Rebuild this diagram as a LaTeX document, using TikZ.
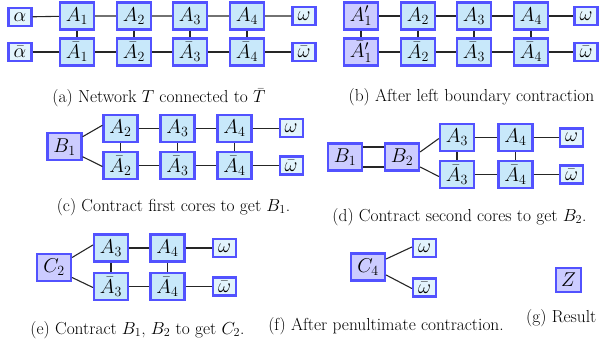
\RequirePackage{fix-cm}
\documentclass[tikz,border=0pt]{standalone}
\definecolor{bordc}{RGB}{82,82,255}
\definecolor{corefill}{RGB}{200,232,250}
\definecolor{endfill}{RGB}{226,244,252}
\definecolor{mergefill}{RGB}{204,204,255}
\tikzset{
  basebox/.style={draw=bordc, line width=2.2pt, inner sep=0pt, font=\fontsize{20}{23}\selectfont},
  tbig/.style={basebox, fill=corefill, minimum width=34pt, minimum height=27pt},
  tmerge/.style={basebox, fill=mergefill, minimum width=34pt, minimum height=27pt},
  tend/.style={basebox, fill=endfill, minimum width=23pt, minimum height=18pt},
  tres/.style={basebox, fill=mergefill, minimum width=25pt, minimum height=24pt},
  link/.style={draw=black!85, line width=1.1pt},
  capt/.style={inner sep=0pt, font=\fontsize{17.4}{21}\selectfont}
}
\begin{document}
\begin{tikzpicture}[x=1pt,y=-1pt]
\useasboundingbox (0,0) rectangle (602,347);
% ---------- (a)
\node[tend] (a0) at (20,17) {$\alpha$};
\node[tbig] (a1) at (77,16) {$A_1$};
\node[tbig] (a2) at (134,16) {$A_2$};
\node[tbig] (a3) at (190,16) {$A_3$};
\node[tbig] (a4) at (247,16) {$A_4$};
\node[tend] (a5) at (304,16) {$\omega$};
\node[tend] (b0) at (20,52) {$\bar\alpha$};
\node[tbig] (b1) at (77,52) {$\bar{A}_1$};
\node[tbig] (b2) at (134,52) {$\bar{A}_2$};
\node[tbig] (b3) at (190,52) {$\bar{A}_3$};
\node[tbig] (b4) at (247,52) {$\bar{A}_4$};
\node[tend] (b5) at (304,52) {$\bar\omega$};
\draw[link] (a0)--(a1) (a1)--(a2) (a2)--(a3) (a3)--(a4) (a4)--(a5);
\draw[link] (b0)--(b1) (b1)--(b2) (b2)--(b3) (b3)--(b4) (b4)--(b5);
\draw[link] (a1)--(b1) (a2)--(b2) (a3)--(b3) (a4)--(b4);
\node[capt] (capa) at (159,98) {(a) Network $T$ connected to $\bar{T}$};
% ---------- (b)
\node[tmerge] (c1) at (361,16) {$A'_1$};
\node[tbig] (c2) at (418,16) {$A_2$};
\node[tbig] (c3) at (474,16) {$A_3$};
\node[tbig] (c4) at (531,16) {$A_4$};
\node[tend] (c5) at (586,16) {$\omega$};
\node[tmerge] (d1) at (361,52) {$\bar{A}'_1$};
\node[tbig] (d2) at (418,52) {$\bar{A}_2$};
\node[tbig] (d3) at (474,52) {$\bar{A}_3$};
\node[tbig] (d4) at (531,52) {$\bar{A}_4$};
\node[tend] (d5) at (586,52) {$\bar\omega$};
\draw[link] (c1)--(c2) (c2)--(c3) (c3)--(c4) (c4)--(c5);
\draw[link] (d1)--(d2) (d2)--(d3) (d3)--(d4) (d4)--(d5);
\draw[link] (c1)--(d1) (c2)--(d2) (c3)--(d3) (c4)--(d4);
\node[capt] (capb) at (471.5,97) {(b) After left boundary contraction};
% ---------- (c)
\node[tmerge] (e0) at (64.5,146.7) {$B_1$};
\node[tbig] (e2) at (120.5,128.3) {$A_2$};
\node[tbig] (e3) at (177.5,128.3) {$A_3$};
\node[tbig] (e4) at (234.5,128.3) {$A_4$};
\node[tend] (e5) at (291.2,128.3) {$\omega$};
\node[tbig] (f2) at (120.5,165.5) {$\bar{A}_2$};
\node[tbig] (f3) at (177.5,165.5) {$\bar{A}_3$};
\node[tbig] (f4) at (234.5,165.5) {$\bar{A}_4$};
\node[tend] (f5) at (291.2,165.5) {$\bar\omega$};
\draw[link] ([yshift=10pt]e0.east)--([yshift=3pt]e2.west);
\draw[link] ([yshift=-10pt]e0.east)--([yshift=-1pt]f2.west);
\draw[link] (e2)--(e3) (e3)--(e4) (e4)--(e5);
\draw[link] (f2)--(f3) (f3)--(f4) (f4)--(f5);
\draw[link] (e2)--(f2) (e3)--(f3) (e4)--(f4);
\node[capt] (capc) at (173.5,207) {(c) Contract first cores to get $B_1$.};
% ---------- (d)
\node[tmerge] (g0) at (345,157) {$B_1$};
\node[tmerge] (g1) at (402,157) {$B_2$};
\node[tbig] (g3) at (457,137.5) {$A_3$};
\node[tbig] (g4) at (515.5,137.5) {$A_4$};
\node[tend] (g5) at (571.5,137.5) {$\omega$};
\node[tbig] (h3) at (457,174.5) {$\bar{A}_3$};
\node[tbig] (h4) at (515.5,174.5) {$\bar{A}_4$};
\node[tend] (h5) at (571.5,174.5) {$\bar\omega$};
\draw[link] ([yshift=10pt]g0.east)--([yshift=10pt]g1.west);
\draw[link] ([yshift=-10pt]g0.east)--([yshift=-10pt]g1.west);
\draw[link] ([yshift=5pt]g1.east)--([yshift=-1pt]g3.west);
\draw[link] ([yshift=-10pt]g1.east)--([yshift=-2pt]h3.west);
\draw[link] (g3)--(g4) (g4)--(g5);
\draw[link] (h3)--(h4) (h4)--(h5);
\draw[link] (g3)--(h3) (g4)--(h4);
\node[capt] (capd) at (459.5,217) {(d) Contract second cores to get $B_2$.};
% ---------- (e)
\node[tmerge] (k0) at (54,267.5) {$C_2$};
\node[tbig] (k3) at (111,248) {$A_3$};
\node[tbig] (k4) at (167.5,248) {$A_4$};
\node[tend] (k5) at (224.5,248) {$\omega$};
\node[tbig] (m3) at (111,286.5) {$\bar{A}_3$};
\node[tbig] (m4) at (167.5,286.5) {$\bar{A}_4$};
\node[tend] (m5) at (224.5,286.5) {$\bar\omega$};
\draw[link] ([yshift=10pt]k0.east)--([yshift=3pt]k3.west);
\draw[link] ([yshift=-10pt]k0.east)--([yshift=-1pt]m3.west);
\draw[link] (k3)--(k4) (k4)--(k5);
\draw[link] (m3)--(m4) (m4)--(m5);
\draw[link] (k3)--(m3) (k4)--(m4);
\node[capt] (cape) at (137.5,330) {(e) Contract $B_1$, $B_2$ to get $C_2$.};
% ---------- (f)
\node[tmerge] (n0) at (368,267) {$C_4$};
\node[tend] (n1) at (424.5,248) {$\omega$};
\node[tend] (n2) at (424.5,287.5) {$\bar\omega$};
\draw[link] ([yshift=8pt]n0.east)--([yshift=1pt]n1.west);
\draw[link] ([yshift=-8pt]n0.east)--([yshift=-1pt]n2.west);
\node[capt] (capf) at (386,326) {(f) After penultimate contraction.};
% ---------- (g)
\node[tres] (z) at (568.5,280) {$Z$};
\node[capt, anchor=west] (capg) at (526,318) {(g) Result};
\end{tikzpicture}
\end{document}
